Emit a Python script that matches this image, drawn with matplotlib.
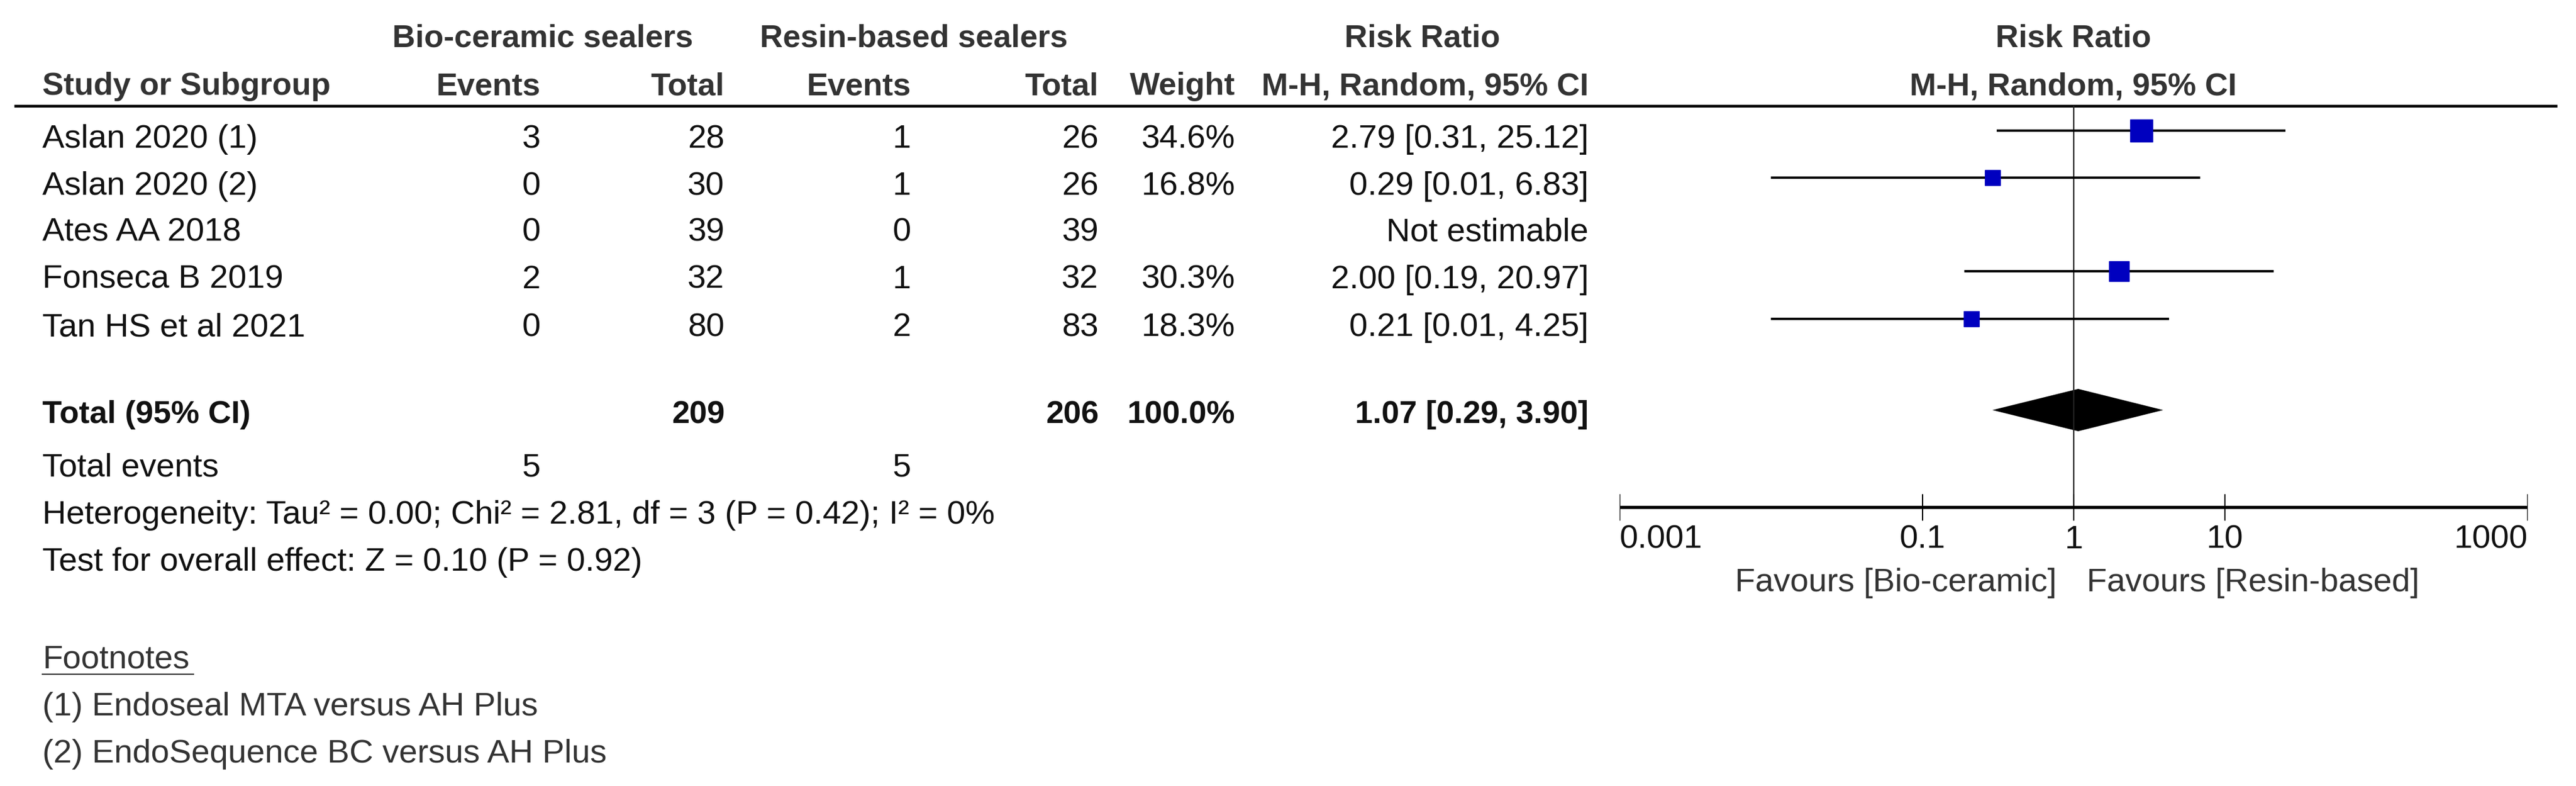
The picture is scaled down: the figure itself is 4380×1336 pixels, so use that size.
import numpy as np
import matplotlib
matplotlib.use("Agg")
import matplotlib.pyplot as plt
from matplotlib.transforms import offset_copy

plt.rcParams['font.family'] = ['Liberation Sans', 'DejaVu Sans']

# data
studies = ["Aslan 2020 (1)", "Aslan 2020 (2)", "Ates AA 2018", "Fonseca B 2019", "Tan HS et al 2021"]
bio_events = [3, 0, 0, 2, 0]
bio_total = [28, 30, 39, 32, 80]
resin_events = [1, 1, 0, 1, 2]
resin_total = [26, 26, 39, 32, 83]
weights = [34.6, 16.8, None, 30.3, 18.3]
rr = [2.79, 0.29, None, 2.00, 0.21]
ci_lo = [0.31, 0.01, None, 0.19, 0.01]
ci_hi = [25.12, 6.83, None, 20.97, 4.25]
pooled = (1.07, 0.29, 3.90)
total_bio, total_resin = 209, 206
events_bio, events_resin = 5, 5
heterogeneity = "Heterogeneity: Tau² = 0.00; Chi² = 2.81, df = 3 (P = 0.42); I² = 0%"
overall = "Test for overall effect: Z = 0.10 (P = 0.92)"
footnotes = ["(1) Endoseal MTA versus AH Plus", "(2) EndoSequence BC versus AH Plus"]
ticks = [0.001, 0.1, 1, 10, 1000]
tick_labels = ["0.001", "0.1", "1", "10", "1000"]

W, H = 4380, 1336
FS_B = 39     # bold text
FS_R = 40.5   # regular text renders a bit wider in the original
fig = plt.figure(figsize=(W / 100, H / 100), dpi=100)
ax = fig.add_axes([0, 0, 1, 1])
ax.set_xlim(0, W)
ax.set_ylim(H, 0)
ax.axis("off")

CAP = 19  # half cap height in px, text is placed on baseline


def txt(x, y, s, ha="left", bold=False, color="#111111", axis=None):
    a = axis if axis is not None else ax
    a.text(x, y + CAP, s, ha=ha, va="baseline", fontsize=FS_B if bold else FS_R,
           fontweight="bold" if bold else "normal", color=color)


# column positions (right edges)
X_NAME = 72
X_BE, X_BT, X_RE, X_RT, X_W, X_CI = 919, 1232, 1549, 1868, 2100, 2701
HC = "#333333"

# headers
txt(923, 61, "Bio-ceramic sealers", ha="center", bold=True, color=HC)
txt(1554, 61, "Resin-based sealers", ha="center", bold=True, color=HC)
txt(2418, 61, "Risk Ratio", ha="center", bold=True, color=HC)
txt(3525, 61, "Risk Ratio", ha="center", bold=True, color=HC)
txt(X_NAME, 142, "Study or Subgroup", bold=True, color=HC)
txt(X_BE, 142, "Events", ha="right", bold=True, color=HC)
txt(X_BT, 142, "Total", ha="right", bold=True, color=HC)
txt(X_RE, 142, "Events", ha="right", bold=True, color=HC)
txt(X_RT, 142, "Total", ha="right", bold=True, color=HC)
txt(X_W, 142, "Weight", ha="right", bold=True, color=HC)
txt(X_CI, 142, "M-H, Random, 95% CI", ha="right", bold=True, color=HC)
txt(3525, 142, "M-H, Random, 95% CI", ha="center", bold=True, color=HC)
ax.hlines(180, 24, 4348, color="black", lw=3.3)

row_y = [232, 312, 391, 471, 552]
for i, y in enumerate(row_y):
    txt(X_NAME, y, studies[i])
    txt(X_BE, y, str(bio_events[i]), ha="right")
    txt(X_BT, y, str(bio_total[i]), ha="right")
    txt(X_RE, y, str(resin_events[i]), ha="right")
    txt(X_RT, y, str(resin_total[i]), ha="right")
    if weights[i] is None:
        txt(X_CI, y, "Not estimable", ha="right")
    else:
        txt(X_W, y, f"{weights[i]:.1f}%", ha="right")
        txt(X_CI, y, f"{rr[i]:.2f} [{ci_lo[i]:.2f}, {ci_hi[i]:.2f}]", ha="right")

# total row
y_tot = 700
txt(X_NAME, y_tot, "Total (95% CI)", bold=True)
txt(X_BT, y_tot, str(total_bio), ha="right", bold=True)
txt(X_RT, y_tot, str(total_resin), ha="right", bold=True)
txt(X_W, y_tot, "100.0%", ha="right", bold=True)
txt(X_CI, y_tot, f"{pooled[0]:.2f} [{pooled[1]:.2f}, {pooled[2]:.2f}]", ha="right", bold=True)
txt(X_NAME, 791, "Total events")
txt(X_BE, 791, str(events_bio), ha="right")
txt(X_RE, 791, str(events_resin), ha="right")
txt(X_NAME, 871, heterogeneity)
txt(X_NAME, 951, overall)
txt(X_NAME, 1116, "Footnotes", color=HC)
ax.hlines(1146, 71, 330, color=HC, lw=1.5)
txt(X_NAME, 1197, footnotes[0], color=HC)
txt(X_NAME, 1277, footnotes[1], color=HC)

# forest panel, log scale from 0.001 to 1000
fx0, fx1 = 2754, 4298
fa = fig.add_axes([fx0 / W, 0, (fx1 - fx0) / W, 1])
fa.set_xscale("log")
fa.set_xlim(0.001, 1000)
fa.set_ylim(H, 0)
fa.axis("off")

y_axis = 862
fa.vlines(1, 180, y_axis, color="#222222", lw=1.6)
for i, y in enumerate(row_y):
    if rr[i] is None:
        continue
    ym = y - 10
    fa.hlines(ym, ci_lo[i], ci_hi[i], color="black", lw=2.9)
    fa.plot(rr[i], ym, marker="s", ms=6.3 * np.sqrt(weights[i]) * 0.72,
            color="#0000BF", mec="#0000BF")

yd, hd = 697, 36
fa.fill([pooled[1], pooled[0], pooled[2], pooled[0]],
        [yd, yd - hd, yd, yd + hd], color="black", lw=0)

fa.hlines(y_axis, 0.001, 1000, color="black", lw=3.9)
fa.vlines(ticks, 840, 885, color="black", lw=1.5)
for i, t in enumerate(ticks):
    ha = "left" if i == 0 else ("right" if i == len(ticks) - 1 else "center")
    fa.text(t, 913 + CAP, tick_labels[i], ha=ha, va="baseline", fontsize=FS_R, color="#111111")

left_tr = offset_copy(fa.transData, fig=fig, x=-0.29, y=0, units="inches")
right_tr = offset_copy(fa.transData, fig=fig, x=0.22, y=0, units="inches")
fa.text(1, 986 + CAP, "Favours [Bio-ceramic]", ha="right", va="baseline",
        fontsize=FS_R, color=HC, transform=left_tr)
fa.text(1, 986 + CAP, "Favours [Resin-based]", ha="left", va="baseline",
        fontsize=FS_R, color=HC, transform=right_tr)

fig.savefig("out.png", dpi=100, facecolor="white")
